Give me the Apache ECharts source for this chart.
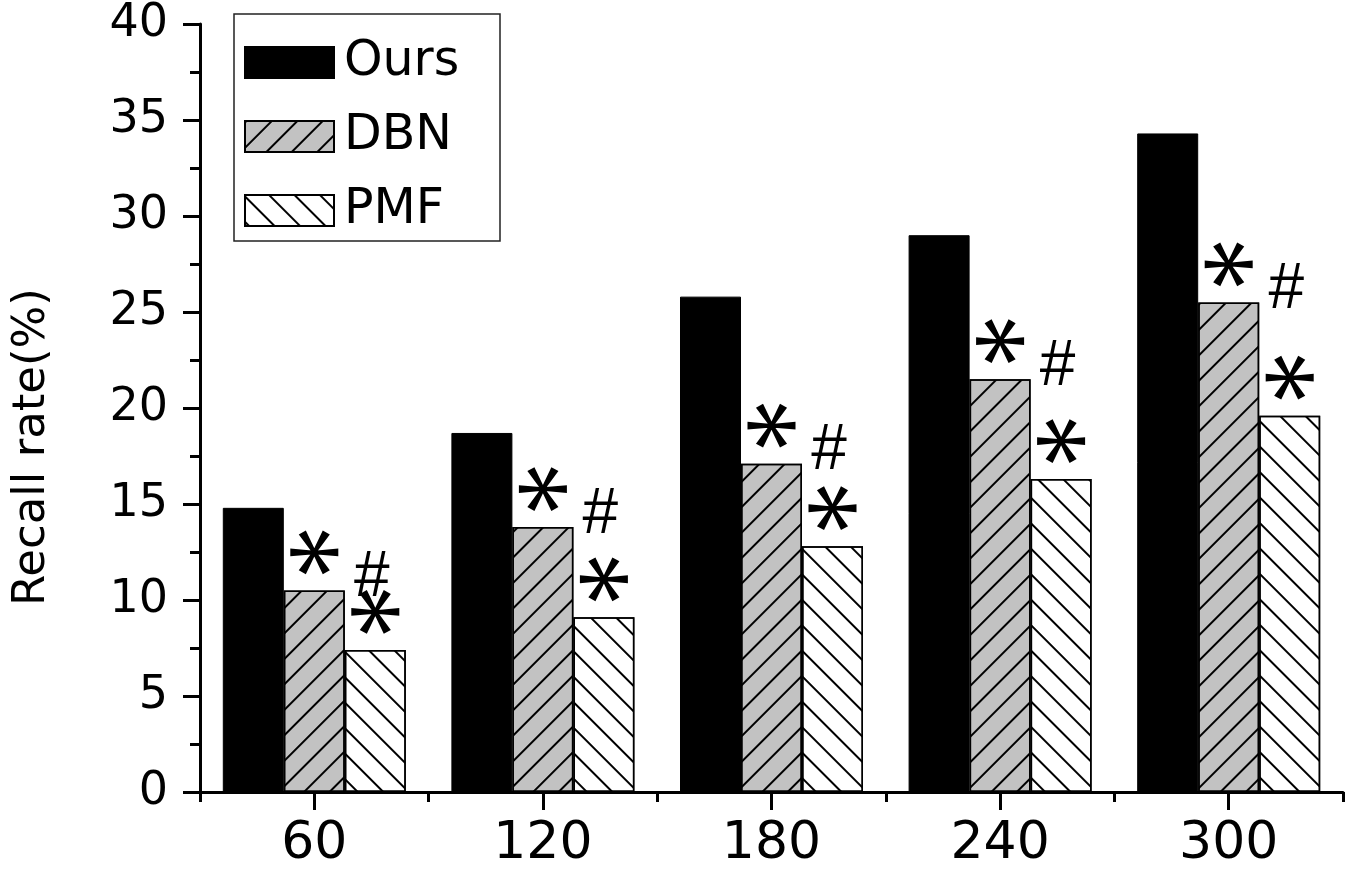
<!DOCTYPE html>
<html>
<head>
<meta charset="utf-8">
<script src="https://cdn.jsdelivr.net/npm/echarts@6/dist/echarts.min.js"></script>
<style>
html,body{margin:0;padding:0;background:#fff;}
#chart{width:1351px;height:870px;}
</style>
</head>
<body>
<div id="chart"></div>
<script>
const categories = ['60', '120', '180', '240', '300'];
const seriesNames = ['Ours', 'DBN', 'PMF'];
const ours = [14.8, 18.7, 25.8, 29.0, 34.3];
const dbn = [10.5, 13.8, 17.1, 21.5, 25.5];
const pmf = [7.4, 9.1, 12.8, 16.3, 19.6];
const axisName = 'Recall rate(%)';

function starPath() {
  const cx = 50, cy = 50, R = 50, h0 = 3.8, h1 = 8.5;
  let d = '';
  [0, 60, 120].forEach(function (deg) {
    const a = deg * Math.PI / 180;
    const ux = Math.cos(a), uy = Math.sin(a);
    const nx = -uy, ny = ux;
    const e1x = cx + ux * R, e1y = cy + uy * R;
    const e2x = cx - ux * R, e2y = cy - uy * R;
    const pts = [
      [e1x + nx * h1, e1y + ny * h1],
      [cx + nx * h0, cy + ny * h0],
      [e2x + nx * h1, e2y + ny * h1],
      [e2x - nx * h1, e2y - ny * h1],
      [cx - nx * h0, cy - ny * h0],
      [e1x - nx * h1, e1y - ny * h1]
    ];
    d += 'M' + pts.map(function (p) { return p[0].toFixed(2) + ' ' + p[1].toFixed(2); }).join(' L') + ' Z ';
  });
  return 'path://' + d;
}
const STAR = starPath();

function starMarks(values) {
  return {
    silent: true,
    symbol: STAR,
    symbolSize: [48, 46],
    symbolKeepAspect: true,
    symbolOffset: [0, -38],
    itemStyle: { color: '#000' },
    label: { show: false },
    emphasis: { disabled: true },
    animation: false,
    data: values.map(function (v, i) { return { coord: [categories[i], v] }; })
  };
}

const FONT = 'DejaVu Sans';
const chart = echarts.init(document.getElementById('chart'));
chart.setOption({
  animation: false,
  backgroundColor: '#fff',
  grid: { left: 200, right: 8, top: 24, bottom: 78, containLabel: false },
  legend: {
    orient: 'vertical',
    left: 234,
    top: 14,
    padding: [24, 10, 6, 10],
    itemWidth: 89,
    itemHeight: 31,
    itemGap: 25,
    icon: 'rect',
    borderColor: '#222',
    borderWidth: 1.5,
    data: seriesNames,
    textStyle: {
      fontFamily: FONT,
      fontSize: 49,
      color: '#000',
      lineHeight: 31,
      width: 146,
      padding: [0, 0, 0, 5]
    }
  },
  xAxis: [
    {
      type: 'category',
      data: categories,
      boundaryGap: true,
      axisLine: { show: true, lineStyle: { color: '#000', width: 3 } },
      axisTick: { show: true, alignWithLabel: false, length: 10, lineStyle: { color: '#000', width: 3 } },
      axisLabel: { fontFamily: FONT, fontSize: 52, color: '#000', margin: 26 },
      splitLine: { show: false }
    },
    {
      type: 'category',
      data: categories,
      position: 'bottom',
      boundaryGap: true,
      axisLine: { show: false },
      axisTick: { show: true, alignWithLabel: true, length: 18, lineStyle: { color: '#000', width: 3 } },
      axisLabel: { show: false },
      splitLine: { show: false }
    }
  ],
  yAxis: {
    type: 'value',
    min: 0,
    max: 40,
    interval: 5,
    name: axisName,
    nameLocation: 'middle',
    nameGap: 145,
    nameTextStyle: { fontFamily: FONT, fontSize: 45, color: '#000', padding: [0, 78, 0, 0] },
    axisLine: { show: true, lineStyle: { color: '#000', width: 3 } },
    axisTick: { show: true, length: 17, lineStyle: { color: '#000', width: 3 } },
    minorTick: { show: true, splitNumber: 2, length: 10, lineStyle: { color: '#000', width: 3 } },
    axisLabel: { fontFamily: FONT, fontSize: 46, color: '#000', margin: 32 },
    splitLine: { show: false },
    minorSplitLine: { show: false }
  },
  series: [
    {
      name: seriesNames[0],
      type: 'bar',
      xAxisIndex: 0,
      data: ours,
      barWidth: 61,
      barGap: '0%',
      itemStyle: { color: '#000', borderColor: '#000', borderWidth: 1 }
    },
    {
      name: seriesNames[1],
      type: 'bar',
      xAxisIndex: 0,
      data: dbn,
      barWidth: 61,
      barGap: '0%',
      itemStyle: {
        color: '#c2c2c2',
        borderColor: '#000',
        borderWidth: 1.5,
        decal: {
          symbol: 'rect',
          symbolSize: 1,
          dashArrayX: [1, 0],
          dashArrayY: [2, 16],
          rotation: -Math.PI / 4,
          color: '#000'
        }
      },
      label: {
        show: true,
        position: [88, -12],
        align: 'center',
        verticalAlign: 'middle',
        formatter: '#',
        fontFamily: 'Liberation Sans',
        fontSize: 64,
        color: '#000'
      },
      markPoint: starMarks(dbn)
    },
    {
      name: seriesNames[2],
      type: 'bar',
      xAxisIndex: 0,
      data: pmf,
      barWidth: 61,
      barGap: '0%',
      itemStyle: {
        color: '#fff',
        borderColor: '#000',
        borderWidth: 1.5,
        decal: {
          symbol: 'rect',
          symbolSize: 1,
          dashArrayX: [1, 0],
          dashArrayY: [2, 16],
          rotation: Math.PI / 4,
          color: '#000'
        }
      },
      markPoint: starMarks(pmf)
    }
  ]
});
</script>
</body>
</html>
